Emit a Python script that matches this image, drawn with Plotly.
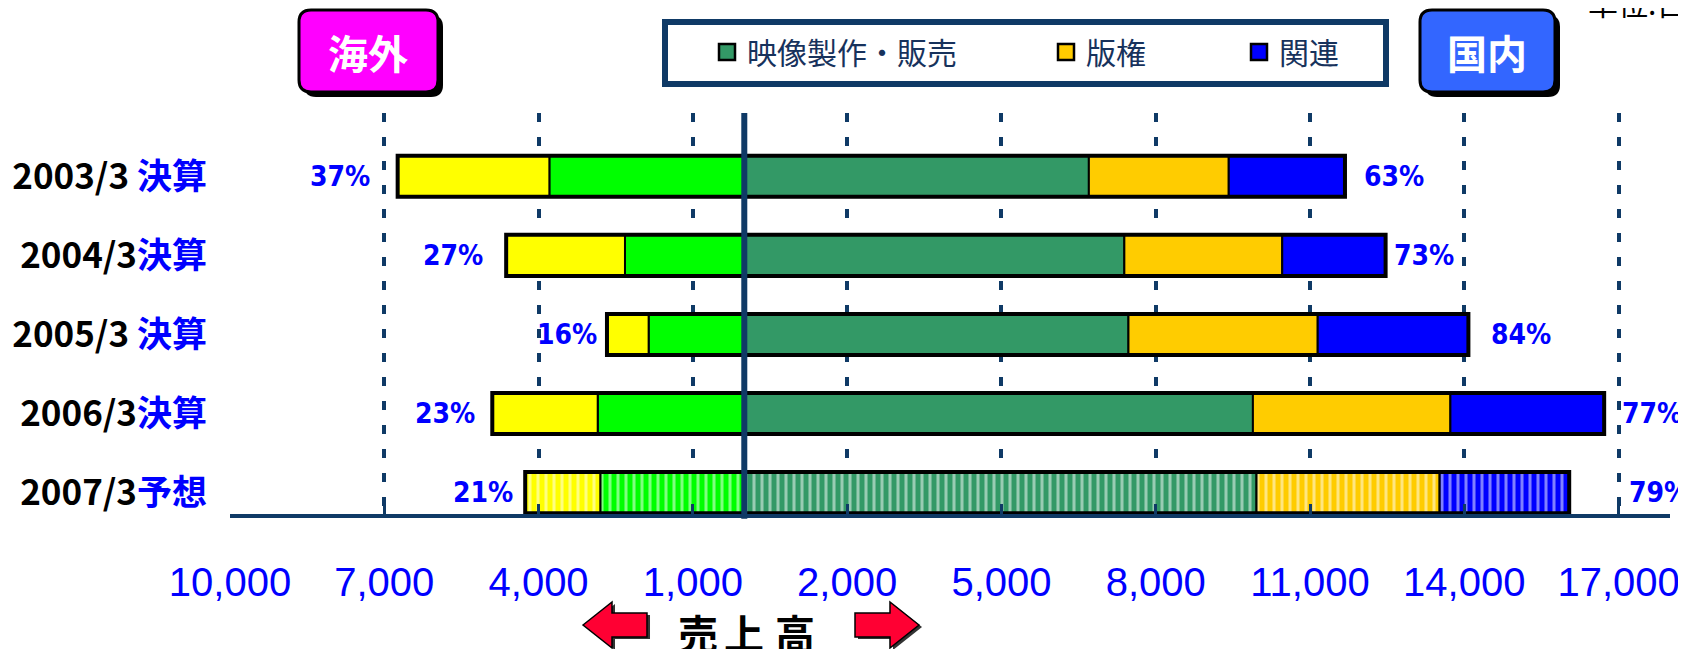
import plotly.graph_objects as go

# ---------------- data ----------------
categories = ["2003/3 決算", "2004/3 決算", "2005/3 決算", "2006/3 決算", "2007/3 予想"]
year_labels = ["2003/3 ", "2004/3", "2005/3 ", "2006/3", "2007/3"]
kind_labels = ["決算", "決算", "決算", "決算", "予想"]

dom_video = [6700, 7390, 7470, 9890, 9960]      # 国内 映像製作・販売
dom_rights = [2720, 3070, 3680, 3840, 3560]     # 国内 版権
dom_related = [2260, 2010, 2930, 2990, 2520]    # 国内 関連
ovs_video = [3790, 2320, 1860, 2850, 2800]      # 海外 映像製作・販売
ovs_rights = [2950, 2310, 810, 2050, 1460]      # 海外 版権

ovs_pct = ["37%", "27%", "16%", "23%", "21%"]
dom_pct = ["63%", "73%", "84%", "77%", "79%"]

tick_vals = [-10000, -7000, -4000, -1000, 2000, 5000, 8000, 11000, 14000, 17000]
tick_text = ["10,000", "7,000", "4,000", "1,000", "2,000", "5,000", "8,000", "11,000", "14,000", "17,000"]

legend_names = ["映像製作・販売", "版権", "関連"]
axis_title_chars = ["売", "上", "高"]

# ---------------- style ----------------
W, H = 1686, 649
OFF = 8                      # page body margin: figure is drawn 8px right/down in the window
PLOT_L, PLOT_R, PLOT_T, PLOT_B = 230, 1670, 113, 514   # plot area in window pixels
ML = PLOT_L - OFF
MT = PLOT_T - OFF
MR = W - (PLOT_R - OFF)
MB = H - (PLOT_B - OFF)
PW, PH = W - ML - MR, H - MT - MB
NAVY = "#0f3a66"
C_DGREEN = "#339966"
C_ORANGE = "#ffcc00"
C_BLUE = "#0000ff"
C_LGREEN = "#00ff00"
C_YELLOW = "#ffff00"
BAR_W = 0.52
pct_gap_left = [26, 21, 8, 15, 10]
pct_gap_right = [17, 6, 21, 16, 58]
title_char_px = [698, 744, 795]


def xp(px):
    """window pixel x -> paper x"""
    return (px - PLOT_L) / PW


def yp(py):
    """window pixel y -> paper y"""
    return (PLOT_B - py) / PH


def P(x, y):
    return f"{xp(x):.5f},{yp(y):.5f}"


def rrect(x0, y0, x1, y1, r):
    return (f"M{P(x0 + r, y0)} L{P(x1 - r, y0)} Q{P(x1, y0)} {P(x1, y0 + r)} "
            f"L{P(x1, y1 - r)} Q{P(x1, y1)} {P(x1 - r, y1)} L{P(x0 + r, y1)} "
            f"Q{P(x0, y1)} {P(x0, y1 - r)} L{P(x0, y0 + r)} Q{P(x0, y0)} {P(x0 + r, y0)} Z")


def poly(pts):
    return "M" + " L".join(P(x, y) for x, y in pts) + " Z"


pattern_shape = ["", "", "", "", "|"]


def seg(values, base, color, name):
    return go.Bar(
        y=categories, x=values, base=base, orientation="h", width=BAR_W,
        name=name, showlegend=False, hoverinfo="skip",
        marker=dict(color=color, line=dict(color="black", width=2),
                    pattern=dict(shape=pattern_shape, fgcolor="white",
                                 fillmode="overlay", size=8, solidity=0.38)),
    )


dom_b2 = [a for a in dom_video]
dom_b3 = [a + b for a, b in zip(dom_video, dom_rights)]
dom_total = [a + b + c for a, b, c in zip(dom_video, dom_rights, dom_related)]
ovs_total = [a + b for a, b in zip(ovs_video, ovs_rights)]

fig = go.Figure()
fig.add_trace(seg(dom_video, [0] * 5, C_DGREEN, "国内 映像製作・販売"))
fig.add_trace(seg(dom_rights, dom_b2, C_ORANGE, "国内 版権"))
fig.add_trace(seg(dom_related, dom_b3, C_BLUE, "国内 関連"))
fig.add_trace(seg(ovs_video, [-v for v in ovs_video], C_LGREEN, "海外 映像製作・販売"))
fig.add_trace(seg(ovs_rights, [-v for v in ovs_total], C_YELLOW, "海外 版権"))
# outer outline of each whole bar
fig.add_trace(go.Bar(
    y=categories, x=[a + b for a, b in zip(ovs_total, dom_total)],
    base=[-v for v in ovs_total], orientation="h", width=BAR_W,
    showlegend=False, hoverinfo="skip",
    marker=dict(color="rgba(0,0,0,0)", line=dict(color="black", width=4)),
))

# legend entries (three independent legends for exact placement)
leg_cols = [C_DGREEN, C_ORANGE, C_BLUE]
leg_ids = ["legend", "legend2", "legend3"]
for nm, col, lid in zip(legend_names, leg_cols, leg_ids):
    fig.add_trace(go.Scatter(
        x=[None], y=[None], mode="markers", name=nm, legend=lid,
        marker=dict(symbol="square", size=26, color=col, line=dict(color="black", width=2.5)),
    ))

PCT_FONT = dict(family="Liberation Sans Narrow, DejaVu Sans Condensed, sans-serif",
                size=28, color="#0000ff", weight="bold")
annotations = []
for i in range(5):
    annotations.append(dict(
        x=-ovs_total[i], y=categories[i], xref="x", yref="y", text=ovs_pct[i],
        showarrow=False, xanchor="right", yanchor="middle", xshift=-pct_gap_left[i],
        font=PCT_FONT,
    ))
    annotations.append(dict(
        x=dom_total[i], y=categories[i], xref="x", yref="y", text=dom_pct[i],
        showarrow=False, xanchor="left", yanchor="middle", xshift=pct_gap_right[i],
        font=PCT_FONT,
    ))

CJK = "Noto Sans CJK JP"
annotations += [
    dict(x=xp(368), y=yp(52), xref="paper", yref="paper", text="海外", showarrow=False,
         xanchor="center", yanchor="middle",
         font=dict(family=CJK, size=40, color="white", weight="bold")),
    dict(x=xp(1487), y=yp(52), xref="paper", yref="paper", text="国内", showarrow=False,
         xanchor="center", yanchor="middle",
         font=dict(family=CJK, size=40, color="white", weight="bold")),
    dict(x=xp(1586), y=yp(2), xref="paper", yref="paper", text="単位:百万円", showarrow=False,
         xanchor="left", yanchor="middle",
         font=dict(family=CJK, size=30, color="black")),
]
for ch, cx in zip(axis_title_chars, title_char_px):
    annotations.append(dict(x=xp(cx), y=yp(632), xref="paper", yref="paper", text=ch,
                            showarrow=False, xanchor="center", yanchor="middle",
                            font=dict(family=CJK, size=40, color="black", weight="bold")))

shapes = [
    # legend frame
    dict(type="rect", xref="paper", yref="paper", x0=xp(665), x1=xp(1386), y0=yp(22), y1=yp(84),
         line=dict(color=NAVY, width=6), fillcolor="white", layer="below"),
    # 海外 badge
    dict(type="path", xref="paper", yref="paper", path=rrect(304, 15, 443, 97, 12),
         fillcolor="black", line=dict(width=0)),
    dict(type="path", xref="paper", yref="paper", path=rrect(299, 10, 438, 92, 12),
         fillcolor="#ff00ff", line=dict(color="black", width=3)),
    # 国内 badge
    dict(type="path", xref="paper", yref="paper", path=rrect(1425, 15, 1560, 97, 12),
         fillcolor="black", line=dict(width=0)),
    dict(type="path", xref="paper", yref="paper", path=rrect(1420, 10, 1555, 92, 12),
         fillcolor="#3366ff", line=dict(color="black", width=3)),
    # arrows
    dict(type="path", xref="paper", yref="paper",
         path=poly([(586, 627), (615, 604), (615, 615), (650, 615), (650, 639), (615, 639), (615, 650)]),
         fillcolor="#333333", line=dict(width=0)),
    dict(type="path", xref="paper", yref="paper",
         path=poly([(583, 625), (612, 602), (612, 613), (647, 613), (647, 637), (612, 637), (612, 648)]),
         fillcolor="#ff0033", line=dict(color="black", width=1.5)),
    dict(type="path", xref="paper", yref="paper",
         path=poly([(922, 627), (893, 604), (893, 615), (858, 615), (858, 639), (893, 639), (893, 650)]),
         fillcolor="#333333", line=dict(width=0)),
    dict(type="path", xref="paper", yref="paper",
         path=poly([(919, 625), (890, 602), (890, 613), (855, 613), (855, 637), (890, 637), (890, 648)]),
         fillcolor="#ff0033", line=dict(color="black", width=1.5)),
    # center (zero) line, above bars
    dict(type="line", xref="x", yref="paper", x0=0, x1=0, y0=-0.012, y1=1.0,
         line=dict(color=NAVY, width=6), layer="above"),
]

ytick_text = [f"{a}<span style='color:#0000ff'>{b}</span>" for a, b in zip(year_labels, kind_labels)]

leg_common = dict(orientation="h", bgcolor="rgba(0,0,0,0)", borderwidth=0,
                  font=dict(family=CJK, size=30, color="#17325c"),
                  xanchor="left", yanchor="middle", itemclick=False, itemdoubleclick=False)

fig.update_layout(
    width=W, height=H,
    margin=dict(l=ML, r=MR, t=MT, b=MB, pad=0, autoexpand=False),
    paper_bgcolor="white", plot_bgcolor="white",
    barmode="overlay",
    showlegend=True,
    legend=dict(x=xp(707), y=yp(52), **leg_common),
    legend2=dict(x=xp(1046), y=yp(52), **leg_common),
    legend3=dict(x=xp(1239), y=yp(52), **leg_common),
    xaxis=dict(
        range=[-10000, 18000], tickmode="array", tickvals=tick_vals, ticktext=tick_text,
        tickfont=dict(family="Liberation Sans, Arial, sans-serif", size=40, color="#0000ff"),
        ticks="inside", ticklen=10, tickwidth=3, tickcolor=NAVY,
        showline=True, linewidth=4, linecolor=NAVY,
        showgrid=True, gridcolor=NAVY, gridwidth=4, griddash="9px,15px",
        zeroline=False, ticklabelstandoff=30, fixedrange=True, automargin=False,
    ),
    yaxis=dict(
        type="category", categoryorder="array", categoryarray=categories[::-1],
        range=[-0.27, 4.8], tickmode="array", tickvals=categories, ticktext=ytick_text,
        tickfont=dict(family=CJK, size=35, color="black", weight="bold"),
        showline=False, showgrid=False, zeroline=False, ticks="",
        ticklabelstandoff=22, fixedrange=True, automargin=False,
    ),
    annotations=annotations,
    shapes=shapes,
)

fig.write_html("out.html")
